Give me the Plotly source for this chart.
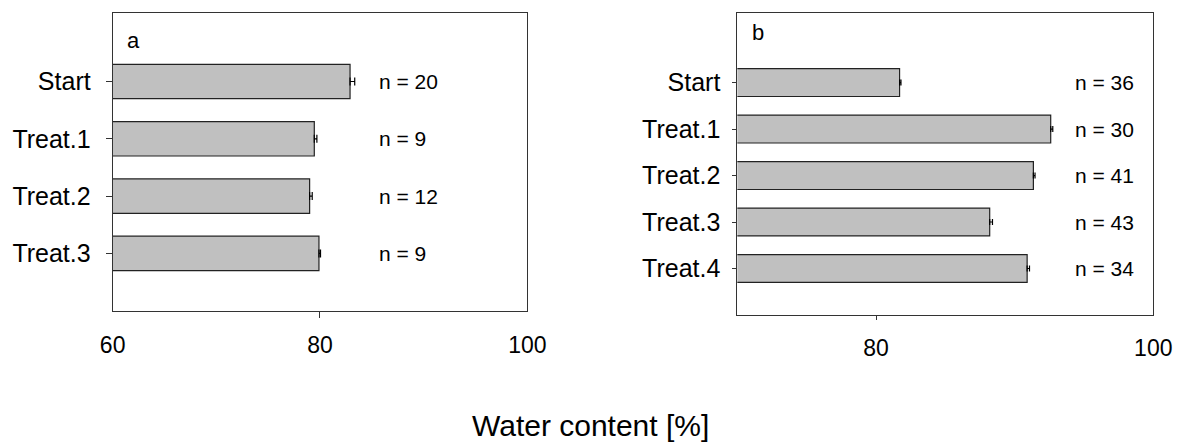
import plotly.graph_objects as go

# panel a
cats_a = ["Start", "Treat.1", "Treat.2", "Treat.3"]
mean_a = [82.9, 79.45, 79.0, 79.9]
se_a = [0.45, 0.25, 0.25, 0.15]
n_a = [20, 9, 12, 9]

# panel b
cats_b = ["Start", "Treat.1", "Treat.2", "Treat.3", "Treat.4"]
mean_b = [81.7, 92.6, 91.35, 88.2, 90.9]
se_b = [0.1, 0.15, 0.12, 0.2, 0.17]
n_b = [36, 30, 41, 43, 34]

FONT = "Liberation Sans, Arial, sans-serif"
bar_fill = "#c0c0c0"
edge = "#222222"

fig = go.Figure()

fig.add_trace(go.Bar(
    x=mean_a, y=cats_a, orientation="h", width=0.6,
    marker=dict(color=bar_fill, line=dict(color=edge, width=1.2)),
    error_x=dict(type="data", array=se_a, arrayminus=[0] * len(se_a), symmetric=False,
                 color="black", thickness=1.2, width=4),
    xaxis="x", yaxis="y", base=0,
))
fig.add_trace(go.Bar(
    x=mean_b, y=cats_b, orientation="h", width=0.6,
    marker=dict(color=bar_fill, line=dict(color=edge, width=1.2)),
    error_x=dict(type="data", array=se_b, arrayminus=[0] * len(se_b), symmetric=False,
                 color="black", thickness=1.2, width=3),
    xaxis="x2", yaxis="y2", base=0,
))

frame = dict(showline=True, mirror=True, linecolor="#333333", linewidth=1,
             showgrid=False, zeroline=False, tickcolor="#333333",
             automargin=False)

annotations = []
for c, n in zip(cats_a, n_a):
    annotations.append(dict(x=85.5, y=c, xref="x", yref="y", text=f"n = {n}",
                            showarrow=False, xanchor="left", font=dict(size=21)))
for c, n in zip(cats_b, n_b):
    annotations.append(dict(x=94.2, y=c, xref="x2", yref="y2", text=f"n = {n}",
                            showarrow=False, xanchor="left", font=dict(size=21)))
annotations += [
    dict(x=0.03, y=0.907, xref="x domain", yref="y domain", text="a", showarrow=False,
         xanchor="left", yanchor="middle", font=dict(size=22)),
    dict(x=0.03, y=0.935, xref="x2 domain", yref="y2 domain", text="b", showarrow=False,
         xanchor="left", yanchor="middle", font=dict(size=22)),
    dict(x=0.4956, y=0.0395, xref="paper", yref="paper", text="Water content [%]",
         showarrow=False, xanchor="center", yanchor="middle", font=dict(size=30)),
]

# the page body adds an 8px offset, so the figure is 8px smaller than the window
fig.update_layout(
    width=1176, height=435,
    margin=dict(l=0, r=0, t=0, b=0, autoexpand=False),
    paper_bgcolor="white", plot_bgcolor="white",
    showlegend=False, bargap=0.4,
    font=dict(family=FONT, color="black", size=20),
    # only the inner tick mark is drawn; edge ticks coincide with the frame
    xaxis=dict(frame, domain=[0.0890, 0.4416], range=[60, 100], tickvals=[60, 80, 100],
               ticks="outside", ticklen=0, tickfont=dict(size=23), ticklabelstandoff=14,
               minor=dict(tickvals=[80], ticks="outside", ticklen=6, tickcolor="#333333"),
               anchor="y"),
    yaxis=dict(frame, domain=[0.3041, 0.9878], range=[4.0, -1.19], type="category",
               ticks="outside", ticklen=6, tickfont=dict(size=25), ticklabelstandoff=10,
               anchor="x"),
    xaxis2=dict(frame, domain=[0.6202, 0.9739], range=[70, 100], tickvals=[80, 100],
                ticks="outside", ticklen=0, tickfont=dict(size=23), ticklabelstandoff=12,
                minor=dict(tickvals=[80], ticks="outside", ticklen=4, tickcolor="#333333"),
                anchor="y2"),
    yaxis2=dict(frame, domain=[0.2943, 0.9878], range=[5.0, -1.49], type="category",
                ticks="outside", ticklen=4, tickfont=dict(size=25), ticklabelstandoff=7,
                anchor="x2"),
    annotations=annotations,
)

fig.write_html("out.html")
